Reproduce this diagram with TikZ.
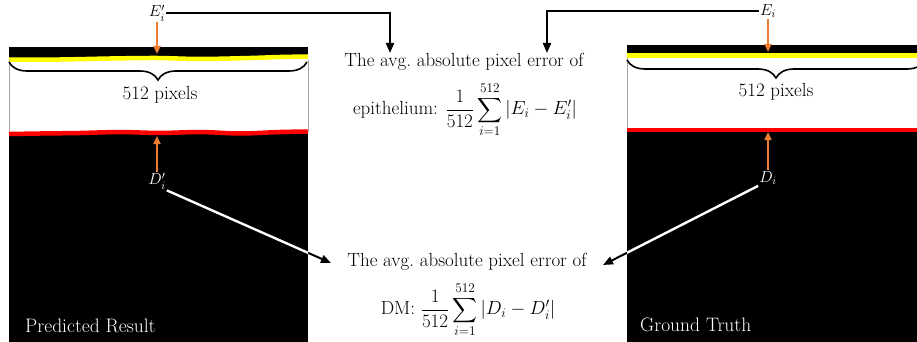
\documentclass[tikz,border=0pt]{standalone}
\usepackage{fix-cm}
\usepackage{amsmath}
\usepackage{fontspec}
\usepackage{tikz}
\usetikzlibrary{arrows.meta,decorations.pathreplacing}
\definecolor{orangeline}{RGB}{237,125,49}
\definecolor{maskyellow}{RGB}{255,255,0}
\definecolor{maskred}{RGB}{255,0,0}

\begin{document}
\begin{tikzpicture}[x=1pt, y=-1pt,
  formula/.style={font=\fontsize{19}{22}\selectfont, align=center, inner sep=0pt},
  marker/.style={font=\fontsize{16}{19}\selectfont, inner sep=1pt},
  caption/.style={font=\fontsize{19.5}{22}\selectfont, text=white, anchor=west, inner sep=0pt},
  pointer/.style={-{Triangle[length=8pt,width=7pt]}, line width=2pt, draw=orangeline},
  link/.style={-{Triangle[length=10pt,width=8pt]}, line width=2pt, draw=black},
  span/.style={line width=1.6pt, decorate, decoration={brace, mirror, amplitude=18pt}}
]
\clip (0,0) rectangle (917,342);

% predicted mask
\fill[black] (9,47) rectangle (308,342);
\fill[white] (9,58) rectangle (308,133);
\draw[maskyellow, line width=4.5pt] plot[smooth] coordinates {(9,59.5) (60,59.5) (110,58.5) (157,58) (200,59) (250,58) (280,57) (308,56.5)};
\draw[maskred, line width=4.5pt] plot[smooth] coordinates {(9,134) (40,133.5) (80,133) (120,132) (160,133) (200,132) (240,133.5) (280,132) (308,131.5)};
\draw[black!35, line width=0.6pt] (9,60) -- (9,131) (308,60) -- (308,131);

% ground truth mask
\fill[black] (627,45) rectangle (917,342);
\fill[white] (627,56) rectangle (917,129);
\draw[maskyellow, line width=4.5pt] (627,55.5) -- (917,55.5);
\draw[maskred, line width=4.5pt] (627,130) -- (917,130);
\draw[black!35, line width=0.6pt] (627,58) -- (627,128);

% braces
\draw[span] (9,62) -- (307,62);
\draw[span] (627,60) -- (925,60);
\node[formula] (widthL) at (160,95) {512 pixels};
\node[formula] (widthR) at (776,92) {512 pixels};

% boundary labels
\node[marker] (Ep) at (157,13) {$E_i'$};
\node[marker] (E) at (768,11) {$E_i$};
\node[marker, text=white] (Dp) at (157,181) {$D_i'$};
\node[marker, text=white] (D) at (768,178) {$D_i$};

\coordinate (yelL) at (157,54);
\coordinate (redL) at (157,136);
\coordinate (yelR) at (768,52);
\coordinate (redR) at (768,132);
\draw[pointer] (Ep) -- (yelL);
\draw[pointer] (Dp) -- (redL);
\draw[pointer] (E) -- (yelR);
\draw[pointer] (D) -- (redR);

% error formulas
\node[formula] (epi1) at (464,62) {The avg.\ absolute pixel error of};
\node[formula] (epi2) at (465,110) {epithelium: $\displaystyle\frac{1}{512}\sum_{i=1}^{512}|E_i-E_i'|$};
\node[formula] (dm1) at (467,262) {The avg.\ absolute pixel error of};
\node[formula] (dm2) at (468,310) {DM: $\displaystyle\frac{1}{512}\sum_{i=1}^{512}|D_i-D_i'|$};

\coordinate (epiL) at (390,53);
\coordinate (epiR) at (547,53);
\coordinate (dmL) at (331,263);
\coordinate (dmR) at (603,265);
\draw[link] (Ep.east) -| (epiL);
\draw[link] (E.west) -| (epiR);

\draw[link] (Dp.south east) -- (dmL);
\draw[link] (D.south west) -- (dmR);
\begin{scope}
  \clip (9,47) rectangle (308,342) (627,45) rectangle (917,342);
  \draw[line width=2.4pt, white] (Dp.south east) -- (dmL);
  \draw[line width=2.4pt, white] (D.south west) -- (dmR);
\end{scope}

% captions
\node[caption] (pred) at (25,326) {Predicted Result};
\node[caption] (truth) at (640,325) {Ground Truth};
\end{tikzpicture}
\end{document}
